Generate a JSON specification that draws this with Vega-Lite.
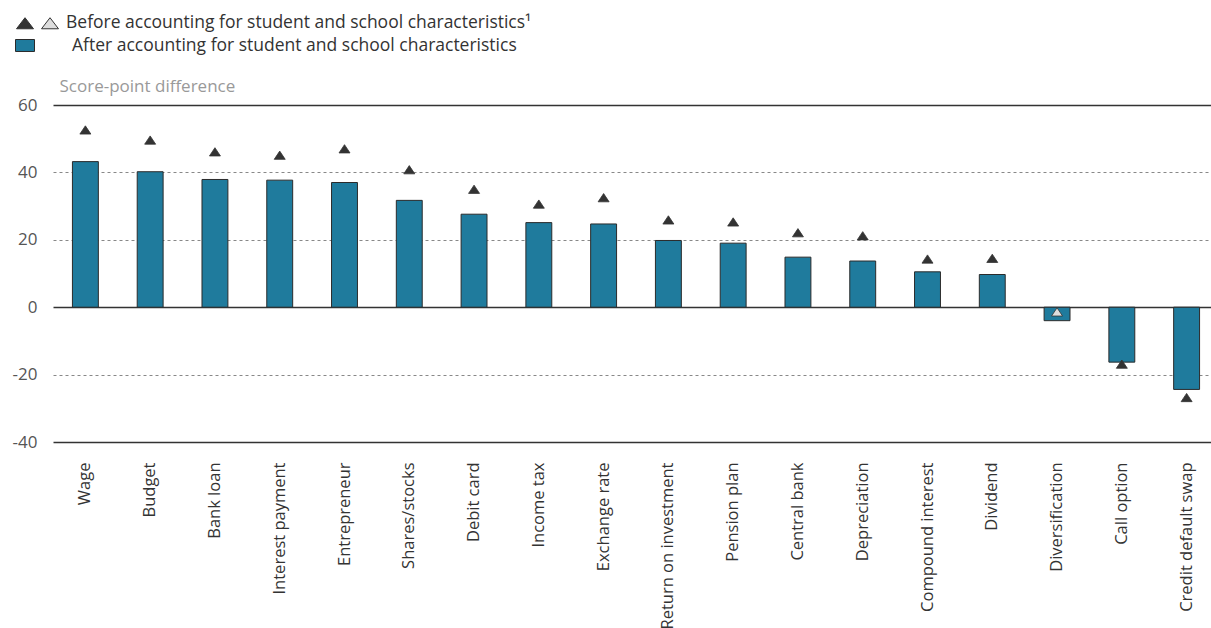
{
  "$schema": "https://vega.github.io/schema/vega-lite/v6.json",
  "width": 1158,
  "height": 337,
  "autosize": {"type": "none"},
  "padding": {"left": 53, "top": 105, "right": 0, "bottom": 186},
  "background": "white",
  "config": {
    "font": "Open Sans",
    "view": {"stroke": null}
  },
  "data": {
    "values": [
      {"cat": "Wage", "after": 43.2, "before": 52.6, "sig": "sig"},
      {"cat": "Budget", "after": 40.2, "before": 49.6, "sig": "sig"},
      {"cat": "Bank loan", "after": 37.9, "before": 46.1, "sig": "sig"},
      {"cat": "Interest payment", "after": 37.7, "before": 45.1, "sig": "sig"},
      {"cat": "Entrepreneur", "after": 37.0, "before": 47.0, "sig": "sig"},
      {"cat": "Shares/stocks", "after": 31.7, "before": 40.8, "sig": "sig"},
      {"cat": "Debit card", "after": 27.6, "before": 35.0, "sig": "sig"},
      {"cat": "Income tax", "after": 25.1, "before": 30.6, "sig": "sig"},
      {"cat": "Exchange rate", "after": 24.7, "before": 32.5, "sig": "sig"},
      {"cat": "Return on investment", "after": 19.8, "before": 25.9, "sig": "sig"},
      {"cat": "Pension plan", "after": 19.0, "before": 25.3, "sig": "sig"},
      {"cat": "Central bank", "after": 14.85, "before": 22.1, "sig": "sig"},
      {"cat": "Depreciation", "after": 13.7, "before": 21.2, "sig": "sig"},
      {"cat": "Compound interest", "after": 10.5, "before": 14.3, "sig": "sig"},
      {"cat": "Dividend", "after": 9.7, "before": 14.5, "sig": "sig"},
      {"cat": "Diversification", "after": -4.0, "before": -1.4, "sig": "ns"},
      {"cat": "Call option", "after": -16.3, "before": -16.9, "sig": "sig"},
      {"cat": "Credit default swap", "after": -24.4, "before": -26.8, "sig": "sig"}
    ]
  },
  "encoding": {
    "x": {
      "field": "cat",
      "type": "nominal",
      "sort": null,
      "scale": {"paddingInner": 0.6, "paddingOuter": 0.3, "range": [0, 1166]},
      "axis": {
        "title": null,
        "domain": false,
        "ticks": false,
        "labelAngle": -90,
        "labelAlign": "right",
        "labelBaseline": "middle",
        "labelPadding": 20,
        "labelFontSize": 16.5,
        "labelColor": "#333333",
        "labelFont": "Open Sans",
        "labelLimit": 300
      }
    }
  },
  "layer": [
    {
      "mark": {"type": "bar", "stroke": "#2b2b2b", "strokeWidth": 1},
      "encoding": {
        "y": {
          "field": "after",
          "type": "quantitative",
          "scale": {"domain": [-40, 60], "nice": false},
          "axis": {
            "values": [-40, -20, 0, 20, 40, 60],
            "labelExpr": "'' + datum.value",
            "title": "Score-point difference",
            "titleAngle": 0,
            "titleX": 6,
            "titleY": -19,
            "titleAlign": "left",
            "titleBaseline": "middle",
            "titleFontSize": 17,
            "titleFontWeight": "normal",
            "titleColor": "#999999",
            "titleFont": "Open Sans",
            "domain": false,
            "ticks": false,
            "labelPadding": 16,
            "labelFontSize": 17,
            "labelColor": "#555555",
            "labelFont": "Open Sans",
            "grid": true,
            "gridColor": {"condition": {"test": "datum.value === 0 || datum.value === 60 || datum.value === -40", "value": "#333333"}, "value": "#888888"},
            "gridDash": {"condition": {"test": "datum.value === 0 || datum.value === 60 || datum.value === -40", "value": []}, "value": [3, 3]},
            "gridWidth": {"condition": {"test": "datum.value === 0 || datum.value === 60 || datum.value === -40", "value": 1.3}, "value": 1}
          }
        },
        "fill": {
          "datum": "After accounting for student and school characteristics",
          "scale": {"range": ["#1f7b9d"]},
          "legend": {
            "title": null,
            "orient": "none",
            "legendX": -38,
            "legendY": -69.5,
            "symbolType": "M-1,-0.63H1V0.63H-1Z",
            "symbolSize": 361,
            "symbolStrokeColor": "#2b2b2b",
            "symbolStrokeWidth": 1,
            "labelOffset": 37,
            "labelFontSize": 17.5,
            "labelColor": "#333333",
            "labelFont": "Open Sans",
            "labelLimit": 600
          }
        }
      }
    },
    {
      "mark": {"type": "point", "shape": "M-1,0.75L0,-0.75L1,0.75Z", "filled": true, "size": 121, "stroke": "#333333", "strokeWidth": 0.8, "opacity": 1},
      "encoding": {
        "y": {"field": "before", "type": "quantitative"},
        "fill": {
          "field": "sig",
          "type": "nominal",
          "scale": {"domain": ["sig", "ns"], "range": ["#333333", "#dddddd"]},
          "legend": {
            "title": null,
            "orient": "none",
            "direction": "horizontal",
            "columns": 2,
            "legendX": -37,
            "legendY": -91,
            "symbolType": "M-1,0.65L0,-0.65L1,0.65Z",
            "symbolSize": 289,
            "symbolStrokeColor": "#333333",
            "symbolStrokeWidth": 1,
            "columnPadding": -10,
            "labelOffset": 7,
            "labelExpr": "datum.value === 'sig' ? '' : 'Before accounting for student and school characteristics¹'",
            "labelFontSize": 17.5,
            "labelColor": "#333333",
            "labelFont": "Open Sans",
            "labelLimit": 600
          }
        }
      }
    }
  ],
  "resolve": {"scale": {"fill": "independent"}}
}
